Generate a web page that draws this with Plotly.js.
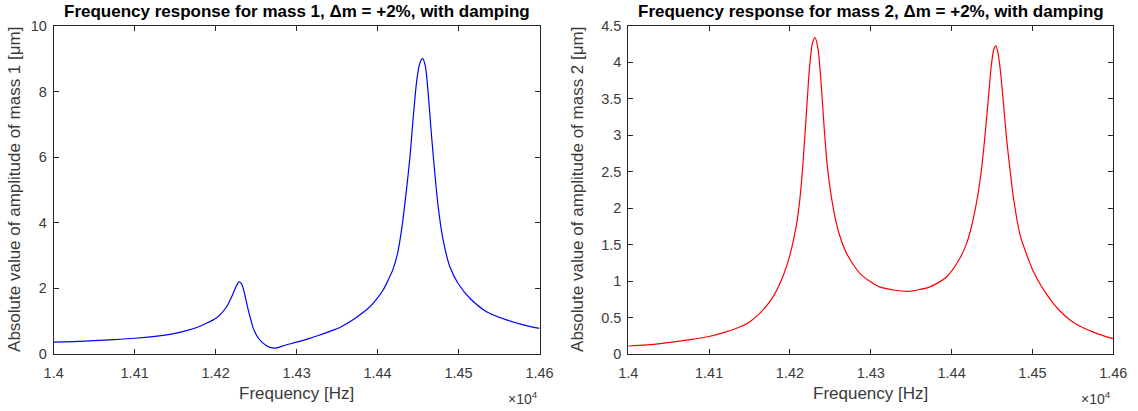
<!DOCTYPE html>
<html>
<head>
<meta charset="utf-8">
<script src="https://cdn.plot.ly/plotly-3.0.1.min.js"></script>
<style>html,body{margin:0;padding:0;background:#fff;}#chart{width:1138px;height:411px;}</style>
</head>
<body>
<div id="chart"></div>
<script>
// Frequency [Hz] and amplitude [µm]
const freq1 = [14000,14025,14050,14075,14100,14125,14150,14165,14180,14190,14200.4,14207,14213.6,14221.7,14225.5,14228.8,14231.5,14234.1,14240.3,14246.5,14251,14256.8,14262,14267,14274.4,14285,14300,14315,14328.8,14341,14353.5,14365.8,14378,14390.5,14399,14406.9,14413,14419,14425,14430,14435,14440,14444,14448,14451.5,14455.5,14459,14462.5,14466,14470,14474.8,14481,14489.3,14499.5,14514,14534.6,14559.3,14580,14600];
const amp1  = [0.36,0.38,0.41,0.44,0.48,0.54,0.63,0.72,0.84,0.95,1.09,1.24,1.44,1.85,2.07,2.20,2.16,2.00,1.34,0.78,0.55,0.37,0.27,0.20,0.18,0.26,0.36,0.47,0.58,0.69,0.81,0.98,1.19,1.44,1.68,1.95,2.25,2.58,3.10,3.85,4.85,6.00,7.20,8.25,8.80,9.01,8.78,7.95,6.85,5.70,4.50,3.47,2.66,2.15,1.70,1.29,1.04,0.89,0.78];

const freq2 = [14000,14037,14079,14100,14120,14140,14150,14161,14177,14190,14200,14208,14212,14216,14220,14224,14227.5,14231,14234.5,14238,14242,14246,14252,14260,14270,14287,14311,14345,14373,14394,14410,14418,14423,14431,14436,14440,14445,14449,14452,14454.6,14457,14460,14464,14468,14472.5,14477,14485,14500,14510,14518,14526,14534,14546,14559,14580,14600];
const amp2  = [0.11,0.14,0.20,0.24,0.30,0.38,0.44,0.54,0.75,1.03,1.36,1.77,2.10,2.60,3.25,3.90,4.25,4.34,4.20,3.80,3.15,2.60,2.10,1.68,1.38,1.10,0.92,0.86,0.92,1.06,1.31,1.50,1.68,2.09,2.45,2.85,3.45,3.95,4.17,4.23,4.15,3.92,3.45,2.95,2.50,2.10,1.62,1.16,0.95,0.81,0.69,0.59,0.47,0.38,0.28,0.21];

const xTickVals = [14000,14100,14200,14300,14400,14500,14600];
const xTickText = ['1.4','1.41','1.42','1.43','1.44','1.45','1.46'];
const y1Ticks = [0,2,4,6,8,10];
const y2Ticks = [0,0.5,1,1.5,2,2.5,3,3.5,4,4.5];
const y2TickText = ['0','0.5','1','1.5','2','2.5','3','3.5','4','4.5'];

const titles = ['Frequency response for mass 1, Δm = +2%, with damping','Frequency response for mass 2, Δm = +2%, with damping'];
const yTitles = ['Absolute value of amplitude of mass 1 [μm]','Absolute value of amplitude of mass 2 [μm]'];
const xTitle = 'Frequency [Hz]';

const W = 1138, H = 411;
const FONT = 'Liberation Sans, Arial, Helvetica, sans-serif';
const axColor = '#262626';
const txtColor = '#3a3a3a';
const dom1 = [53.7/W, 539.5/W];
const dom2 = [628.3/W, 1113.3/W];
const ydom = [1-354/H, 1-25.9/H];

function xaxis(dom, anchor){
  return {domain: dom, anchor: anchor, range:[14000,14600], tickvals: xTickVals, ticktext: xTickText,
    ticks:'inside', ticklen:5, tickwidth:1, tickcolor:axColor, showline:true, linecolor:axColor, linewidth:1,
    mirror:'ticks', showgrid:false, zeroline:false, tickfont:{family:FONT,size:14.5,color:txtColor},
    ticklabelstandoff:6, automargin:false};
}
function yaxis(range, tv, tt, anchor){
  return {domain: ydom, anchor: anchor, range: range, tickvals: tv, ticktext: tt,
    ticks:'inside', ticklen:5, tickwidth:1, tickcolor:axColor, showline:true, linecolor:axColor, linewidth:1,
    mirror:'ticks', showgrid:false, zeroline:false, tickfont:{family:FONT,size:14.5,color:txtColor},
    ticklabelstandoff:3, automargin:false};
}

const data = [
  {x: freq1, y: amp1, type:'scatter', mode:'lines', line:{color:'#0000ff', width:1.2, shape:'spline', smoothing:0.7}, xaxis:'x', yaxis:'y', hoverinfo:'skip'},
  {x: freq2, y: amp2, type:'scatter', mode:'lines', line:{color:'#ff0000', width:1.2, shape:'spline', smoothing:0.7}, xaxis:'x2', yaxis:'y2', hoverinfo:'skip'}
];

function ann(text, x, y, opts){
  return Object.assign({text:text, xref:'paper', yref:'paper', x:x, y:y, xanchor:'center', yanchor:'middle', showarrow:false,
    font:{family:FONT,size:17,color:txtColor}}, opts||{});
}

const layout = {
  width: W, height: H, margin:{l:0,r:0,t:0,b:0}, showlegend:false,
  paper_bgcolor:'#ffffff', plot_bgcolor:'#ffffff',
  xaxis: xaxis(dom1,'y'),
  yaxis: yaxis([0,10], y1Ticks, y1Ticks.map(String), 'x'),
  xaxis2: xaxis(dom2,'y2'),
  yaxis2: yaxis([0,4.5], y2Ticks, y2TickText, 'x2'),
  annotations: [
    ann('<b>'+titles[0]+'</b>', (dom1[0]+dom1[1])/2, 1-12/H, {font:{family:FONT,size:17,color:'#000'}}),
    ann('<b>'+titles[1]+'</b>', (dom2[0]+dom2[1])/2, 1-12/H, {font:{family:FONT,size:17,color:'#000'}}),
    ann(xTitle, (dom1[0]+dom1[1])/2, 1-393/H),
    ann(xTitle, (dom2[0]+dom2[1])/2, 1-393/H),
    ann(yTitles[0], 15/W, (ydom[0]+ydom[1])/2, {textangle:-90}),
    ann(yTitles[1], 578/W, (ydom[0]+ydom[1])/2, {textangle:-90}),
    ann('×10<sup>4</sup>', dom1[1], 1-398/H, {xanchor:'right', font:{family:FONT,size:14,color:txtColor}}),
    ann('×10<sup>4</sup>', dom2[1], 1-398/H, {xanchor:'right', font:{family:FONT,size:14,color:txtColor}})
  ]
};

Plotly.newPlot('chart', data, layout, {displayModeBar:false, staticPlot:true});
</script>
</body>
</html>
